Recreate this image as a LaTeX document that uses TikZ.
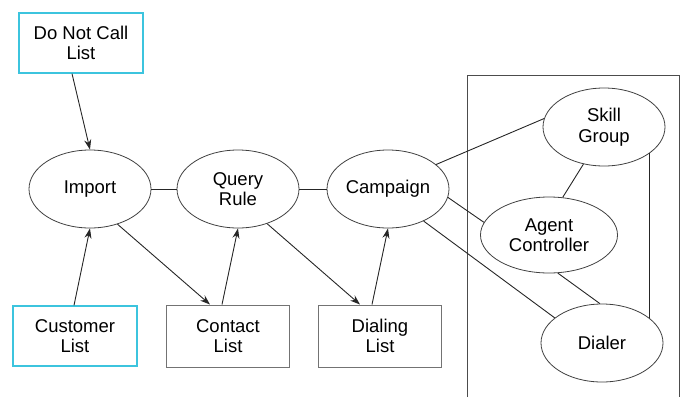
\documentclass[tikz,border=0pt]{standalone}
\usepackage{fontspec}
\setmainfont{Liberation Sans}
\usetikzlibrary{shapes.geometric,arrows.meta}
\definecolor{listcyan}{RGB}{60,196,222}
\begin{document}
\begin{tikzpicture}[x=1pt,y=-1pt,
  every node/.style={font=\fontsize{18.5}{20.5}\selectfont,align=center},
  src/.style={draw=listcyan,line width=1.2pt,minimum width=124pt,minimum height=60pt,inner sep=0pt},
  lst/.style={draw=black!55,line width=1pt,minimum width=123pt,minimum height=62pt,inner sep=0pt},
  obj/.style={draw=black!75,ellipse,line width=0.8pt,minimum width=122pt,minimum height=78pt,inner sep=0pt},
  flow/.style={-{Stealth[length=10pt,width=7pt]},line width=0.9pt,black!85},
  link/.style={line width=0.9pt,black!85}]
\useasboundingbox (0,0) rectangle (688,397);
\node[src] (dnc) at (81,43) {Do Not Call\\List};
\node[src] (cust) at (75,336) {Customer\\List};
\node[lst] (cont) at (228,336) {Contact\\List};
\node[lst] (dial) at (380,336) {Dialing\\List};
\node[obj] (imp) at (90,189) {Import};
\node[obj] (qry) at (238,189) {Query\\Rule};
\node[obj] (camp) at (388,189) {Campaign};
\node[obj] (skill) at (604,127) {Skill\\Group};
\node[obj,minimum width=137pt,minimum height=76pt] (agent) at (549,235) {Agent\\Controller};
\node[obj] (dialer) at (602,343) {Dialer};
% box round the peripheral side, open at the bottom
\draw[line width=0.9pt,black!70] (467,397) -- (467,75) -- (679,75) -- (679,397);
\draw[flow] ([xshift=-9pt]dnc.south) -- (imp.north);
\draw[flow] ([xshift=-1pt]cust.north) -- (imp.south);
\draw[flow] (imp.-52) -- ([xshift=-18pt]cont.north);
\draw[flow] ([xshift=-6pt]cont.north) -- (qry.south);
\draw[flow] (qry.-50) -- ([xshift=-20pt]dial.north);
\draw[flow] ([xshift=-8pt]dial.north) -- (camp.south);
\foreach \a/\b in {imp/qry,qry/camp} {
  \draw[link] (\a) -- (\b);
}
\foreach \a/\b in {camp.27/skill.172,camp.-8/agent.169,camp.-42/dialer.152,agent.70/skill.-119,agent.-77/dialer.93} {
  \draw[link] (\a) -- (\b);
}
\draw[link] (skill.-30) -- (skill.-30 |- dialer.28);
\end{tikzpicture}
\end{document}
